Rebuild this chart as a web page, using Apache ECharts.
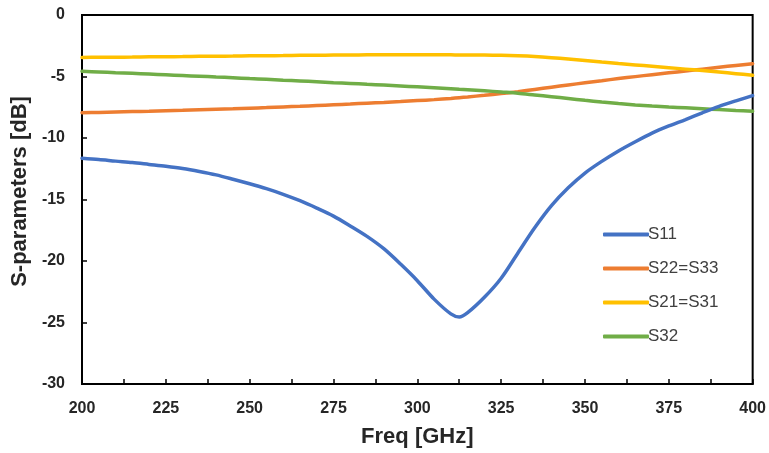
<!DOCTYPE html>
<html>
<head>
<meta charset="utf-8">
<script src="https://cdn.jsdelivr.net/npm/echarts@6/dist/echarts.min.js"></script>
<style>html,body{margin:0;padding:0;background:#fff}#c{width:769px;height:453px}</style>
</head>
<body>
<div id="c"></div>
<script>
var freq = [200,205,210,215,220,225,230,235,240,245,250,255,260,265,270,275,280,285,290,295,300,305,310,312.5,315,320,325,330,335,340,345,350,355,360,365,370,375,380,385,390,395,400];
var s11 = [-11.65,-11.75,-11.88,-12.0,-12.15,-12.3,-12.48,-12.72,-13.0,-13.35,-13.72,-14.12,-14.58,-15.1,-15.7,-16.35,-17.15,-18.0,-19.0,-20.25,-21.6,-23.1,-24.3,-24.55,-24.2,-22.95,-21.4,-19.35,-17.3,-15.5,-14.05,-12.85,-11.9,-11.05,-10.3,-9.6,-9.02,-8.5,-7.95,-7.43,-6.98,-6.55];
var s22 = [-7.95,-7.92,-7.88,-7.85,-7.82,-7.78,-7.75,-7.71,-7.67,-7.63,-7.58,-7.53,-7.47,-7.42,-7.36,-7.3,-7.24,-7.17,-7.11,-7.04,-6.96,-6.88,-6.78,-6.72,-6.66,-6.53,-6.39,-6.23,-6.05,-5.87,-5.69,-5.51,-5.34,-5.17,-5.01,-4.85,-4.7,-4.55,-4.4,-4.25,-4.1,-3.96];
var s21 = [-3.45,-3.44,-3.43,-3.42,-3.4,-3.39,-3.38,-3.36,-3.35,-3.34,-3.32,-3.31,-3.3,-3.28,-3.27,-3.26,-3.25,-3.24,-3.24,-3.23,-3.23,-3.23,-3.24,-3.245,-3.25,-3.26,-3.28,-3.32,-3.38,-3.47,-3.58,-3.7,-3.83,-3.95,-4.06,-4.17,-4.28,-4.4,-4.52,-4.64,-4.77,-4.9];
var s32 = [-4.58,-4.63,-4.69,-4.74,-4.8,-4.86,-4.92,-4.98,-5.04,-5.1,-5.17,-5.23,-5.3,-5.36,-5.43,-5.5,-5.56,-5.63,-5.7,-5.77,-5.84,-5.91,-5.99,-6.03,-6.07,-6.16,-6.26,-6.36,-6.5,-6.64,-6.79,-6.94,-7.08,-7.2,-7.31,-7.4,-7.48,-7.55,-7.62,-7.69,-7.76,-7.82];
var names = ['S11','S22=S33','S21=S31','S32'];
var colors = ['#4472C4','#ED7D31','#FFC000','#70AD47'];
var xMin = 200, xMax = 400, xStep = 25;
var yMin = -30, yMax = 0, yStep = 5;

function pairs(ys){ return freq.map(function(f,i){ return [f, ys[i]]; }); }
var all = [s11, s22, s21, s32];
var series = all.map(function(ys, i){
  return {
    name: names[i], type: 'line', data: pairs(ys), smooth: 0.3,
    symbol: 'none', lineStyle: {width: 3.5, color: colors[i], cap: 'round'},
    itemStyle: {color: colors[i]}
  };
});
series = [series[1], series[2], series[3], series[0]];

var FONT = 'Liberation Sans, Arial';
var chart = echarts.init(document.getElementById('c'), null, {renderer:'canvas'});
chart.setOption({
  animation: false,
  color: colors,
  grid: {left: 82, top: 15, right: 16, bottom: 67, show: true, borderColor: '#000', borderWidth: 2, backgroundColor: 'transparent'},
  legend: {
    orient: 'vertical', left: 598, top: 220, itemWidth: 46, itemHeight: 4, itemGap: 15,
    icon: 'roundRect',
    data: names,
    textStyle: {fontFamily: FONT, fontSize: 17, color: '#404040', padding: [0,0,0,-6], lineHeight: 19}
  },
  xAxis: {
    type: 'value', min: xMin, max: xMax, interval: xStep,
    name: 'Freq [GHz]', nameLocation: 'middle', nameGap: 42,
    nameTextStyle: {fontFamily: FONT, fontSize: 22, fontWeight: 'bold', color: '#262626'},
    axisLine: {show: true, onZero: false, lineStyle: {color: '#000', width: 2}},
    axisTick: {show: true, inside: true, length: 5, lineStyle: {color: '#000', width: 1.5}},
    minorTick: {show: true, splitNumber: 2, length: 5, lineStyle: {color: '#000', width: 1.5}},
    splitLine: {show: false},
    axisLabel: {fontFamily: FONT, fontSize: 16, fontWeight: 'bold', color: '#262626', margin: 17}
  },
  yAxis: {
    type: 'value', min: yMin, max: yMax, interval: yStep,
    name: 'S-parameters [dB]', nameLocation: 'middle', nameGap: 48,
    nameTextStyle: {fontFamily: FONT, fontSize: 22, fontWeight: 'bold', color: '#262626', padding: [0,0,0,16]},
    axisLine: {show: true, onZero: false, lineStyle: {color: '#000', width: 2}},
    axisTick: {show: true, inside: true, length: 5, lineStyle: {color: '#000', width: 1.5}},
    splitLine: {show: false},
    axisLabel: {fontFamily: FONT, fontSize: 16, fontWeight: 'bold', color: '#262626', margin: 17}
  },
  series: series
});
</script>
</body>
</html>
